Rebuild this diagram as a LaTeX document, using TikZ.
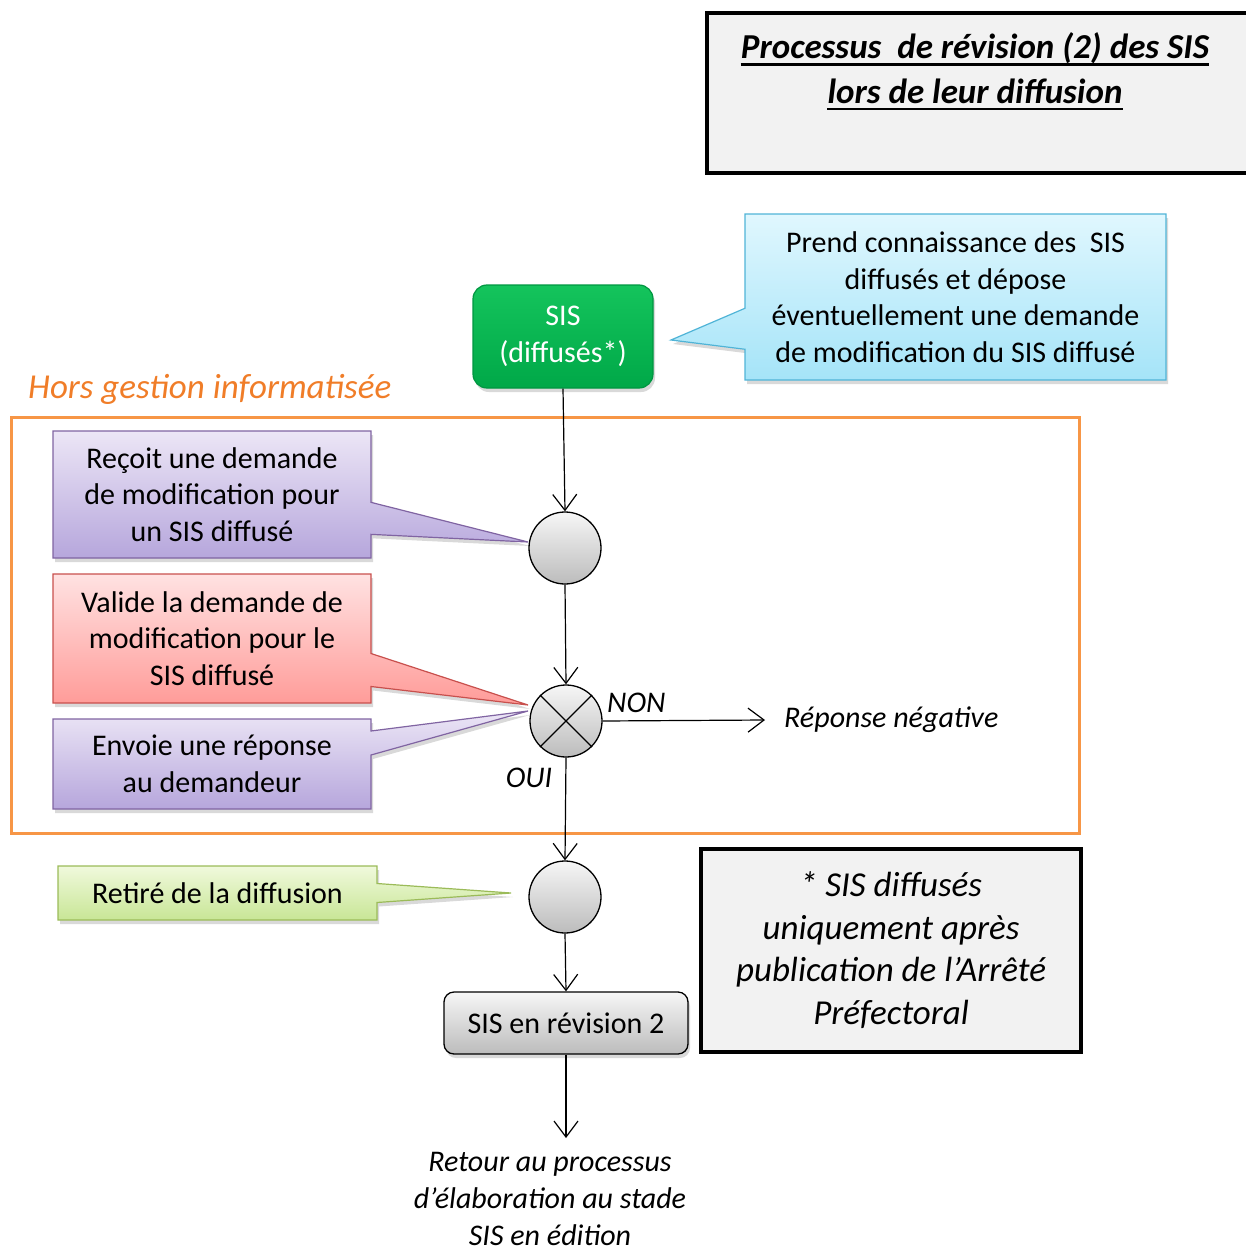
\documentclass[tikz,border=0pt]{standalone}
\usepackage{fontspec}
\setmainfont{Carlito}
\usetikzlibrary{shapes.callouts,shadows,arrows.meta}
\definecolor{panelgray}{RGB}{242,242,242}
\definecolor{hororange}{RGB}{240,125,40}
\definecolor{frameorange}{RGB}{247,150,70}
\definecolor{bluetop}{RGB}{224,247,254}
\definecolor{bluebot}{RGB}{165,228,248}
\definecolor{blueline}{RGB}{80,180,215}
\definecolor{purpletop}{RGB}{236,230,246}
\definecolor{purplebot}{RGB}{182,166,220}
\definecolor{purpleline}{RGB}{128,100,162}
\definecolor{redtop}{RGB}{255,226,226}
\definecolor{redbot}{RGB}{255,155,152}
\definecolor{redline}{RGB}{200,80,77}
\definecolor{greentop}{RGB}{240,249,220}
\definecolor{greenbot}{RGB}{200,230,150}
\definecolor{greenline}{RGB}{155,187,89}
\definecolor{sistop}{RGB}{20,196,92}
\definecolor{sisbot}{RGB}{0,168,72}
\definecolor{sisline}{RGB}{0,150,65}
\definecolor{bulltop}{RGB}{246,246,246}
\definecolor{bullbot}{RGB}{188,188,188}
\begin{document}
\begin{tikzpicture}[x=1pt,y=-1pt,
  body/.style={font=\fontsize{30}{36.6}\selectfont},
  itxt/.style={font=\fontsize{30}{36.6}\selectfont\itshape, inner sep=0pt},
  titletxt/.style={font=\fontsize{35}{43}\selectfont\bfseries\itshape, inner sep=0pt},
  uline/.style={line width=2.6pt},
  shad/.style={drop shadow={shadow xshift=2pt,shadow yshift=-4pt,opacity=0.3}},
  callbase/.style={rectangle callout, body, shad, line width=1.2pt, inner sep=0pt, align=center},
  purplecall/.style={callbase, draw=purpleline, top color=purpletop, bottom color=purplebot},
  redcall/.style={callbase, draw=redline, top color=redtop, bottom color=redbot},
  bluecall/.style={callbase, draw=blueline, top color=bluetop, bottom color=bluebot},
  greencall/.style={callbase, draw=greenline, top color=greentop, bottom color=greenbot},
  panel/.style={draw=black, line width=4pt, fill=panelgray, inner sep=0pt},
  bullet/.style={circle, draw=black, line width=1.3pt, minimum size=72pt, inner sep=0pt,
    top color=bulltop, bottom color=bullbot},
  arr/.style={draw=black, line width=1.2pt, -{Straight Barb[length=16pt,width=24pt]}}
]
\useasboundingbox (0,0) rectangle (1245,1252);

% title panel
\node[panel, minimum width=543pt, minimum height=160pt] (titlebox) at (978.5,93) {};
\node[titletxt] (t1) at (975,48) {Processus\ \ de révision (2) des SIS};
\node[titletxt] (t2) at (975,91) {lors de leur diffusion};
\draw[uline] ([yshift=-6pt]t1.base west) -- ([yshift=-6pt]t1.base east);
\draw[uline] ([yshift=-6pt]t2.base west) -- ([yshift=-6pt]t2.base east);

% orange zone
\node[draw=frameorange, line width=3pt, minimum width=1068pt, minimum height=416pt, inner sep=0pt] (zone) at (545,625) {};
\node[font=\fontsize{35}{43}\selectfont\itshape, text=hororange, anchor=west, inner sep=0pt] (hors) at (28,389) {Hors gestion informatisée};

% callouts
\node[bluecall, minimum width=421pt, minimum height=166pt, callout absolute pointer={(671,340)}, callout pointer width=41pt] (know) at (955.5,297)
  {Prend connaissance des\ \ SIS\\diffusés et dépose\\éventuellement une demande\\de modification du SIS diffusé};
\node[purplecall, minimum width=318pt, minimum height=127pt, callout absolute pointer={(528,542)}, callout pointer width=32pt] (recoit) at (212,494.5)
  {Reçoit une demande\\de modification pour\\un SIS diffusé};
\node[redcall, minimum width=318pt, minimum height=129pt, callout absolute pointer={(528,705)}, callout pointer width=33pt] (valide) at (212,638.5)
  {Valide la demande de\\modification pour le\\SIS diffusé};
\node[purplecall, minimum width=318pt, minimum height=90pt, callout absolute pointer={(528,711)}, callout pointer width=24pt] (envoie) at (212,764)
  {Envoie une réponse\\au demandeur};
\node[greencall, minimum width=319pt, minimum height=54pt, callout absolute pointer={(511,893)}, callout pointer width=19pt] (retire) at (217.5,893)
  {Retiré de la diffusion};

% main flow nodes
\node[body, rounded corners=14pt, draw=sisline, line width=1.2pt, top color=sistop, bottom color=sisbot, text=white,
  minimum width=180pt, minimum height=103pt, inner sep=0pt, align=center, shad] (sis) at (563,336.5) {SIS\\(diffusés*)};
\node[bullet] (c1) at (565,548) {};
\node[bullet] (c2) at (566,721) {};
\draw[line width=1.2pt] (c2.north west) -- (c2.south east) (c2.north east) -- (c2.south west);
\node[bullet] (c3) at (565,897) {};
\node[body, rounded corners=10pt, draw=black, line width=1.3pt,
  top color=bulltop, bottom color=bullbot,
  minimum width=244pt, minimum height=62pt, inner sep=0pt, shad] (rev) at (566,1023) {SIS en révision 2};

% footnote panel
\node[panel, minimum width=380pt, minimum height=203pt, align=center,
  font=\fontsize{35}{42.7}\selectfont\itshape] (note) at (891,950)
  {* SIS diffusés\\uniquement après\\publication de l’Arrêté\\Préfectoral};

% labels
\node[itxt, anchor=west] (non) at (607,703) {NON};
\node[itxt] (oui) at (529,778) {OUI};
\node[itxt, anchor=west] (neg) at (784,720) {Réponse négative};
\coordinate (retend) at (566,1138);
\node[itxt, align=center] (ret) at (550,1199) {Retour au processus\\d’élaboration au stade\\SIS en édition};

% connectors
\draw[arr] (sis.south) -- (c1.north);
\draw[arr] (c1.south) -- (c2.north);
\draw[arr] (c2.east) -- ([xshift=-19pt]neg.west);
\draw[arr] (c2.south) -- (c3.north);
\draw[arr] (c3.south) -- (rev.north);
\draw[arr] (rev.south) -- (retend);
\end{tikzpicture}
\end{document}
